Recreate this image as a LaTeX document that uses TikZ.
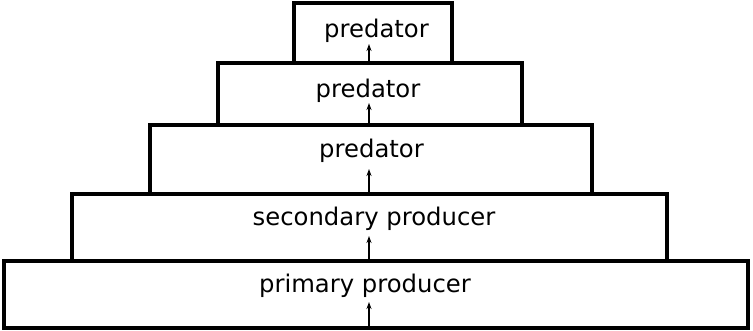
\documentclass[tikz,border=0pt]{standalone}
\usepackage{fontspec}
\setmainfont{DejaVu Sans}
\usetikzlibrary{arrows.meta}
\begin{document}
\begin{tikzpicture}[x=1pt,y=-1pt,
  tier/.style={draw=black,line width=3.4pt,rectangle,inner sep=0pt,outer sep=0pt},
  lbl/.style={anchor=base,inner sep=0pt,font=\fontsize{24.3}{28}\selectfont},
  flow/.style={line width=1.5pt,-{Stealth[length=7pt,width=5pt]}}]
\useasboundingbox (0,0) rectangle (753,330);
% boxes (bottom first)
\node[tier,minimum width=744pt,minimum height=67pt] (b5) at (376,294.5) {};
\node[tier,minimum width=595pt,minimum height=67pt] (b4) at (369.5,227.5) {};
\node[tier,minimum width=442pt,minimum height=69pt] (b3) at (371,159.5) {};
\node[tier,minimum width=304pt,minimum height=62pt] (b2) at (370,94) {};
\node[tier,minimum width=158pt,minimum height=60pt] (b1) at (373,33) {};
% labels
\node[lbl] (t1) at (376.5,37) {predator};
\node[lbl] (t2) at (368,97) {predator};
\node[lbl] (t3) at (371.5,157) {predator};
\node[lbl] (t4) at (374,225) {secondary producer};
\node[lbl] (t5) at (365,292) {primary producer};
% arrows
\coordinate (a1) at (369,44);
\coordinate (a2) at (369,103);
\coordinate (a3) at (369,169);
\coordinate (a4) at (369,236);
\coordinate (a5) at (369,302);
\draw[flow] (a1 |- b1.south) -- (a1);
\draw[flow] (a2 |- b2.south) -- (a2);
\draw[flow] (a3 |- b3.south) -- (a3);
\draw[flow] (a4 |- b4.south) -- (a4);
\draw[flow] (a5 |- b5.south) -- (a5);
\end{tikzpicture}
\end{document}
